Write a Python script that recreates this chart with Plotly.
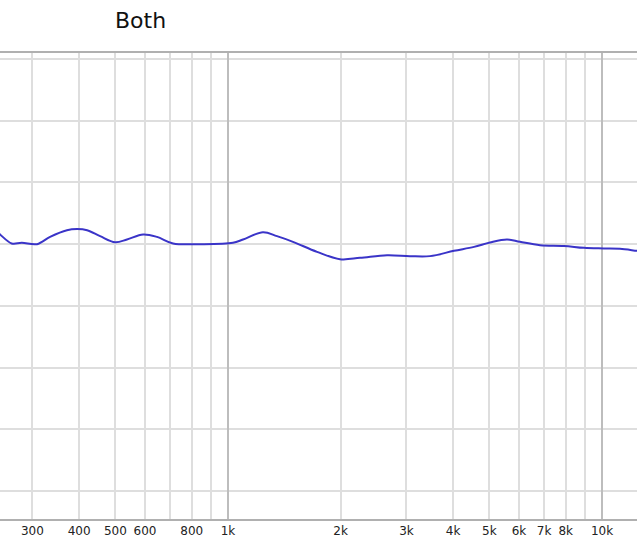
import plotly.graph_objects as go

# Frequency response "Both" (Hz, dB relative)
freq_hz = [240, 245.7, 264, 281, 308.6, 334.4, 371, 395, 420, 455, 499, 537, 593, 646, 713,
           842, 1031, 1097, 1240, 1352, 1492, 1730, 1993, 2254, 2662, 3066, 3468, 4021,
           4548, 5018, 5572, 6036, 6828, 7914, 8952, 10123, 11170, 12404, 12800]
level_db = [1.05, 0.79, 0.06, 0.11, 0.0, 0.59, 1.13, 1.22, 1.13, 0.65, 0.16, 0.38, 0.79, 0.59, 0.06,
            0.0, 0.11, 0.38, 0.97, 0.65, 0.19, -0.62, -1.22, -1.11, -0.89, -0.97, -0.97, -0.54,
            -0.22, 0.14, 0.38, 0.19, -0.08, -0.14, -0.30, -0.35, -0.38, -0.54, -0.58]

tick_vals = [300, 400, 500, 600, 700, 800, 900, 1000, 2000, 3000, 4000, 5000, 6000, 7000,
             8000, 9000, 10000]
tick_text = ["300", "400", "500", "600", "", "800", "", "1k", "2k", "3k", "4k", "5k", "6k",
             "7k", "8k", "", "10k"]
decade_vals = [1000, 10000]
db_grid = [-20, -15, -10, -5, 0, 5, 10, 15]

x_range = [2.3904, 4.0936]
y_range = [-22.27, 15.49]

fig = go.Figure()
fig.add_trace(go.Scatter(x=freq_hz, y=level_db, mode="lines",
                         line=dict(color="#3a34c8", width=2, shape="spline", smoothing=1.0),
                         hoverinfo="skip", showlegend=False))
# invisible trace for decade gridlines overlay
fig.add_trace(go.Scatter(x=decade_vals, y=[None, None], xaxis="x2", mode="lines",
                         showlegend=False, hoverinfo="skip"))

plot_top = 53
plot_bottom_margin = 21
plot_h = 540 - plot_top - plot_bottom_margin

fig.update_layout(
    width=637, height=540,
    margin=dict(l=0, r=0, t=plot_top, b=plot_bottom_margin, pad=0),
    paper_bgcolor="white", plot_bgcolor="white",
    font=dict(family="DejaVu Sans", color="#222"),
    xaxis=dict(type="log", range=x_range, tickvals=tick_vals, ticktext=tick_text,
               automargin=False,
               showgrid=True, gridcolor="#dedede", gridwidth=1.5,
               showline=True, mirror=True, linecolor="#b0b0b0", linewidth=2,
               ticks="", ticklabelstandoff=0, tickfont=dict(size=12, color="#222"),
               zeroline=False, layer="below traces"),
    xaxis2=dict(type="log", range=x_range, overlaying="x", tickvals=decade_vals,
                automargin=False,
                showticklabels=False, showgrid=True, gridcolor="#bdbdbd", gridwidth=1.5,
                zeroline=False, showline=False, ticks=""),
    yaxis=dict(range=y_range, tickvals=db_grid, showticklabels=False, automargin=False,
               showgrid=True, gridcolor="#dedede", gridwidth=1.5,
               zeroline=False, showline=False, ticks=""),
    annotations=[dict(text="Both", xref="paper", yref="paper", x=140/637,
                      y=1 + (plot_top - 20) / plot_h,
                      yanchor="middle", xanchor="center", showarrow=False,
                      font=dict(size=22, color="#111", family="DejaVu Sans"))],
)

fig.write_html("out.html", config={"displayModeBar": False},
               post_script="document.body.style.margin='0';document.body.style.overflow='hidden';")
